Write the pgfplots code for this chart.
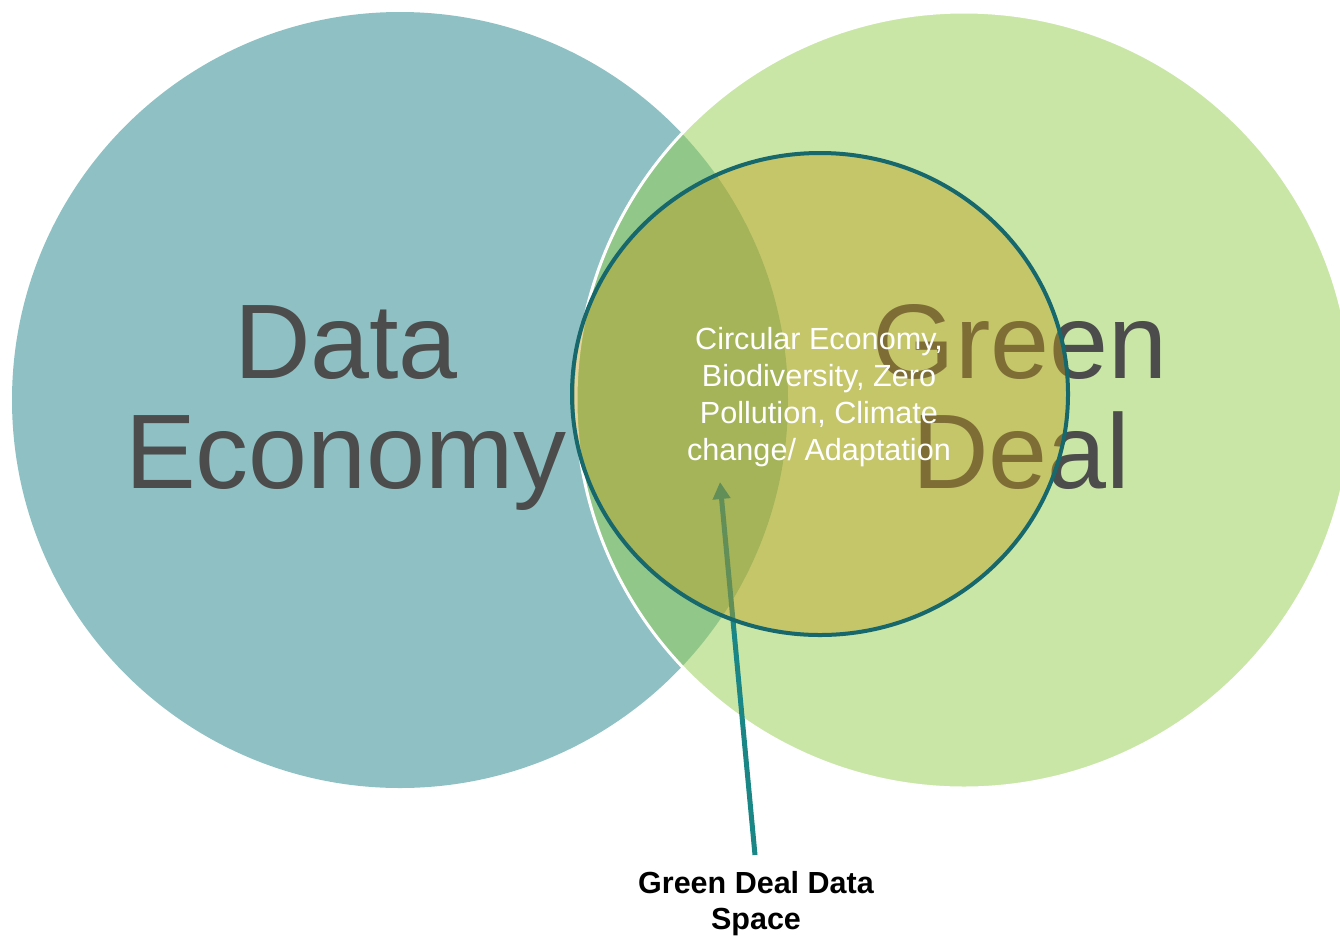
\documentclass[border=0pt]{standalone}
\usepackage{pgfplots}
\pgfplotsset{compat=1.18}
\usepackage{fontspec}
\setmainfont{Liberation Sans}
\usetikzlibrary{arrows.meta}
\definecolor{leftc}{RGB}{143,193,196}
\definecolor{rightc}{RGB}{147,205,77}
\definecolor{innerc}{RGB}{192,156,27}
\definecolor{innerline}{RGB}{23,104,108}
\definecolor{arrowc}{RGB}{26,134,134}
\definecolor{bigtext}{RGB}{76,76,76}
\begin{document}
\begin{tikzpicture}
\begin{axis}[
  scale only axis, width=1340pt, height=935pt,
  xmin=0, xmax=1340, ymin=0, ymax=935, y dir=reverse,
  hide axis, clip=true,
]
% outer circles
\fill[leftc] (axis cs:400,400) circle [radius=388];
\fill[rightc, fill opacity=0.5] (axis cs:964,400) circle [radius=388];
\draw[white, line width=3pt] (axis cs:964,400) circle [radius=388];
% big labels
\node[anchor=base, inner sep=0, text=bigtext, font=\fontsize{106}{110}\selectfont] at (axis cs:346,378) {Data};
\node[anchor=base, inner sep=0, text=bigtext, font=\fontsize{106}{110}\selectfont] at (axis cs:346,488) {Economy};
\node[anchor=base, inner sep=0, text=bigtext, font=\fontsize{106}{110}\selectfont] at (axis cs:1020,378) {Green};
\node[anchor=base, inner sep=0, text=bigtext, font=\fontsize{106}{110}\selectfont] at (axis cs:1021,488) {Deal};
% arrow
\draw[arrowc, line width=5pt, -{Triangle[length=17pt, width=17pt]}] (axis cs:755,855) -- (axis cs:720,482);
% inner circle
\fill[innerc, fill opacity=0.43] (axis cs:820,394) ellipse [x radius=248, y radius=241];
\draw[innerline, line width=4pt] (axis cs:820,394) ellipse [x radius=248, y radius=241];
% inner text
\node[anchor=base, inner sep=0, text=white, font=\fontsize{30.6}{37}\selectfont] at (axis cs:819,349) {Circular Economy,};
\node[anchor=base, inner sep=0, text=white, font=\fontsize{30.6}{37}\selectfont] at (axis cs:819,386) {Biodiversity, Zero};
\node[anchor=base, inner sep=0, text=white, font=\fontsize{30.6}{37}\selectfont] at (axis cs:819,423) {Pollution, Climate};
\node[anchor=base, inner sep=0, text=white, font=\fontsize{30.6}{37}\selectfont] at (axis cs:819,460) {change/ Adaptation};
% bottom label
\node[anchor=base, inner sep=0, text=black, font=\bfseries\fontsize{30.5}{37}\selectfont] at (axis cs:756,893) {Green Deal Data};
\node[anchor=base, inner sep=0, text=black, font=\bfseries\fontsize{30.5}{37}\selectfont] at (axis cs:756,929) {Space};
\end{axis}
\pgfresetboundingbox
\path (current axis.south west) rectangle (current axis.north east);
\end{tikzpicture}
\end{document}
